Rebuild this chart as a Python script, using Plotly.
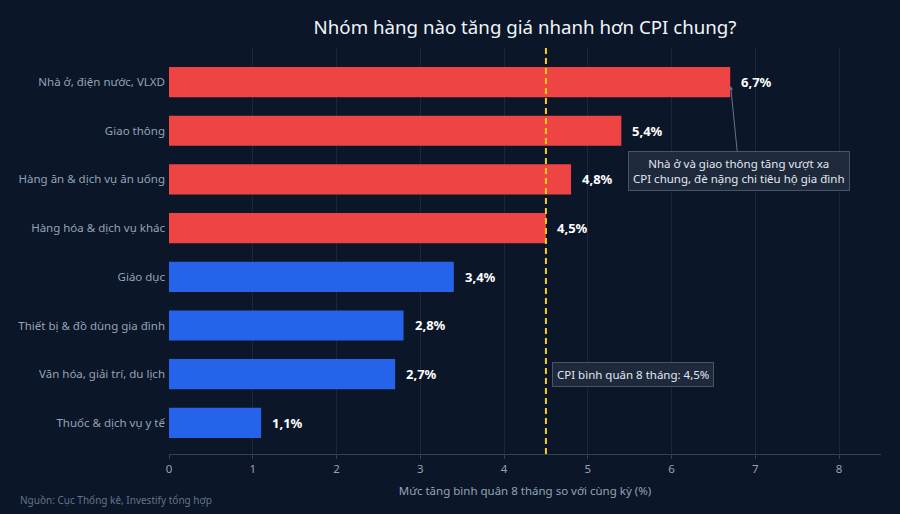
import plotly.graph_objects as go

# Data
categories = [
    "Nhà ở, điện nước, VLXD",
    "Giao thông",
    "Hàng ăn & dịch vụ ăn uống",
    "Hàng hóa & dịch vụ khác",
    "Giáo dục",
    "Thiết bị & đồ dùng gia đình",
    "Văn hóa, giải trí, du lịch",
    "Thuốc & dịch vụ y tế",
]
values = [6.7, 5.4, 4.8, 4.5, 3.4, 2.8, 2.7, 1.1]
cpi_avg = 4.5

RED = "#ef4444"
BLUE = "#2563eb"
BG = "#0b1628"
FONT = "Noto Sans"

colors = [RED if v >= cpi_avg else BLUE for v in values]
labels = [f"{v:.1f}%".replace(".", ",") for v in values]

fig = go.Figure()

fig.add_trace(go.Bar(
    x=values,
    y=categories,
    orientation="h",
    marker=dict(color=colors, line=dict(width=0)),
    width=0.62,
    hoverinfo="skip",
))

# value labels, a bit away from the bar end
for cat, v, lab in zip(categories, values, labels):
    fig.add_annotation(
        x=v, y=cat, xref="x", yref="y", text=lab,
        showarrow=False, xanchor="left", xshift=9,
        font=dict(family=FONT, size=13, color="#ffffff", weight="bold"),
    )

# CPI reference line
fig.add_shape(
    type="line", xref="x", yref="paper",
    x0=cpi_avg, x1=cpi_avg, y0=0, y1=1,
    line=dict(color="#facc15", width=2, dash="6px,4px"),
)

fig.add_annotation(
    x=cpi_avg, y=categories[6], xref="x", yref="y",
    text=f"CPI bình quân 8 tháng: {cpi_avg:.1f}%".replace(".", ","),
    showarrow=False, xanchor="left", xshift=6,
    font=dict(family=FONT, size=11.5, color="#e2e8f0"),
    bgcolor="#1e293b", bordercolor="#475569", borderwidth=1, borderpad=4,
)

fig.add_annotation(
    x=values[0], y=categories[0], xref="x", yref="y",
    text="Nhà ở và giao thông tăng vượt xa<br>CPI chung, đè nặng chi tiêu hộ gia đình",
    showarrow=True, arrowhead=2, arrowsize=0.8, arrowwidth=1, arrowcolor="#64748b",
    ax=9, ay=89, standoff=4,
    font=dict(family=FONT, size=11.5, color="#e2e8f0"),
    bgcolor="#1e293b", bordercolor="#475569", borderwidth=1, borderpad=4,
)

# source note, placed in pixel terms relative to the plot area
fig.add_annotation(
    x=(18 - 169) / 712, y=-(500 - 454) / 406, xref="paper", yref="paper",
    text="Nguồn: Cục Thống kê, Investify tổng hợp",
    showarrow=False, xanchor="left", yanchor="middle",
    font=dict(family=FONT, size=10, color="#64748b"),
)

fig.update_layout(
    width=900, height=514,
    paper_bgcolor=BG, plot_bgcolor=BG,
    margin=dict(l=169, r=19, t=48, b=60),
    showlegend=False,
    title=dict(
        text="Nhóm hàng nào tăng giá nhanh hơn CPI chung?",
        x=0.5, xref="paper", y=1 - 27 / 514, yref="container", yanchor="middle",
        font=dict(family=FONT, size=18.7, color="#f1f5f9"),
    ),
    font=dict(family=FONT, color="#94a3b8"),
    xaxis=dict(
        range=[0, 8.5], dtick=1, tick0=0,
        showgrid=True, gridcolor="#1c2638", gridwidth=1,
        zeroline=False,
        showline=True, linecolor="#334155", linewidth=1,
        ticks="outside", tickcolor="#334155", ticklen=4,
        tickfont=dict(family=FONT, size=11.5, color="#94a3b8"),
        title=dict(text="Mức tăng bình quân 8 tháng so với cùng kỳ (%)",
                   font=dict(family=FONT, size=11.5, color="#94a3b8"), standoff=12),
    ),
    yaxis=dict(
        categoryorder="array", categoryarray=categories,
        range=[7.64, -0.7],
        showgrid=False, zeroline=False, showline=False,
        ticks="", ticklabelstandoff=3,
        tickfont=dict(family=FONT, size=11.5, color="#94a3b8"),
    ),
)

fig.write_html("out.html", config={"displayModeBar": False},
               post_script="document.body.style.margin='0';")
